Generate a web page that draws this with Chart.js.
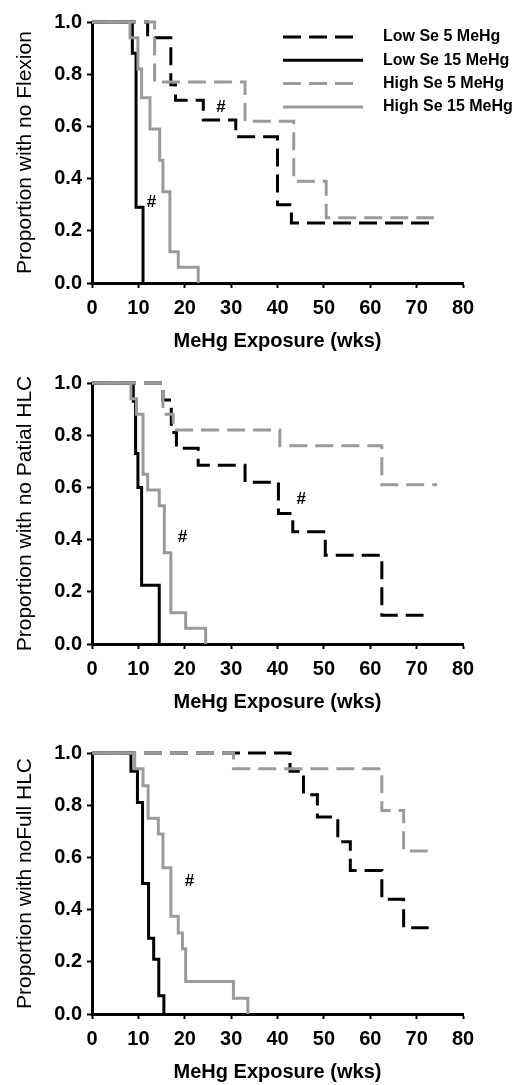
<!DOCTYPE html>
<html>
<head>
<meta charset="utf-8">
<script src="https://cdn.jsdelivr.net/npm/chart.js@4.4.1/dist/chart.umd.min.js"></script>
<style>
    body { margin: 0; background: #fff; width: 517px; height: 1085px; overflow: hidden; position: relative; }
    .panel { position: absolute; left: 0; width: 517px; height: 355px; }
</style>
</head>
<body>
<div class="panel" style="top:0px"><canvas id="flex-chart"></canvas></div>
<div class="panel" style="top:361px"><canvas id="partial-chart"></canvas></div>
<div class="panel" style="top:731px"><canvas id="full-chart"></canvas></div>

<script>
// weeks of MeHg exposure and proportion still without the sign
const xTicks = [0, 10, 20, 30, 40, 50, 60, 70, 80];
const yTicks = [0, 0.2, 0.4, 0.6, 0.8, 1.0];
const groupNames = ['Low Se 5 MeHg', 'Low Se 15 MeHg', 'High Se 5 MeHg', 'High Se 15 MeHg'];

// panel 1 - flexion
const flexLowSe5Wk = [0, 12, 17, 18, 24, 31, 40, 43, 73];
const flexLowSe5P = [1, 0.94, 0.76, 0.70, 0.625, 0.56, 0.30, 0.23, 0.23];
const flexLowSe15Wk = [0, 8.7, 9.5, 11];
const flexLowSe15P = [1, 0.88, 0.29, 0];
const flexHighSe5Wk = [0, 13.5, 33, 43.5, 50.5, 73.7];
const flexHighSe5P = [1, 0.77, 0.62, 0.39, 0.25, 0.25];
const flexHighSe15Wk = [0, 8.2, 9.9, 10.7, 12.5, 14.6, 15.3, 16.8, 18.6, 22.9];
const flexHighSe15P = [1, 0.94, 0.82, 0.71, 0.59, 0.47, 0.35, 0.12, 0.06, 0];
const flexMarks = [[12.8, 0.31], [27.8, 0.675]];

// panel 2 - partial HLC
const partLowSe5Wk = [0, 15.3, 17.1, 18.2, 22.9, 33, 40.2, 43.3, 50.3, 62.5, 71.5];
const partLowSe5P = [1, 0.935, 0.81, 0.75, 0.685, 0.62, 0.50, 0.43, 0.34, 0.11, 0.11];
const partLowSe15Wk = [0, 8.9, 9.4, 9.9, 10.7, 14.5];
const partLowSe15P = [1, 0.93, 0.73, 0.60, 0.225, 0];
const partHighSe5Wk = [0, 15.3, 17.5, 40.5, 62.5, 74.4];
const partHighSe5P = [1, 0.88, 0.82, 0.76, 0.61, 0.61];
const partHighSe15Wk = [0, 8.4, 9.6, 11, 12, 14.5, 15.6, 17, 20.2, 24.5];
const partHighSe15P = [1, 0.94, 0.88, 0.65, 0.59, 0.53, 0.35, 0.12, 0.06, 0];
const partMarks = [[19.5, 0.41], [45.1, 0.555]];

// panel 3 - full HLC
const fullLowSe5Wk = [0, 42.7, 45.6, 48.6, 53, 55.7, 62.5, 67.2, 72.6];
const fullLowSe5P = [1, 0.93, 0.84, 0.755, 0.66, 0.55, 0.44, 0.33, 0.33];
const fullLowSe15Wk = [0, 8.4, 9.8, 10.9, 12.2, 13.3, 14.4, 15.5];
const fullLowSe15P = [1, 0.93, 0.81, 0.50, 0.29, 0.21, 0.07, 0];
const fullHighSe5Wk = [0, 30.5, 62.5, 67.2, 72.4];
const fullHighSe5P = [1, 0.94, 0.78, 0.625, 0.625];
const fullHighSe15Wk = [0, 9.2, 11, 12.1, 14.3, 15.3, 17, 18.6, 19.5, 20.2, 30.5, 33.6];
const fullHighSe15P = [1, 0.94, 0.875, 0.75, 0.69, 0.56, 0.375, 0.31, 0.25, 0.125, 0.06, 0];
const fullMarks = [[21, 0.51]];

const BLACK = '#000000';
const GREY = '#9a9a9a';
const DASH = [18, 8];
const FONT = '"Liberation Sans", Arial, sans-serif';

// line style per group, same order as groupNames
const groupStyles = [
    { color: BLACK, dash: DASH, order: 3 },
    { color: BLACK, dash: [], order: 4 },
    { color: GREY, dash: DASH, order: 2 },
    { color: GREY, dash: [], order: 1 }
];

function toPoints(wk, p) {
    return wk.map((w, i) => ({ x: w, y: p[i] }));
}

// draws the # marks, and the legend box on the first panel
const extrasPlugin = {
    id: 'extras',
    afterDatasetsDraw(chart, args, opts) {
        const ctx = chart.ctx;
        const xs = chart.scales.x, ys = chart.scales.y;
        ctx.save();
        ctx.fillStyle = BLACK;
        ctx.font = 'bold 17px ' + FONT;
        ctx.textAlign = 'center';
        ctx.textBaseline = 'middle';
        (opts.marks || []).forEach(m => {
            ctx.fillText('#', xs.getPixelForValue(m[0]), ys.getPixelForValue(m[1]));
        });
        if (opts.legend) {
            ctx.font = 'bold 16px ' + FONT;
            ctx.textAlign = 'left';
            groupNames.forEach((name, i) => {
                const y = 37 + i * 23.3;
                const st = groupStyles[i];
                ctx.strokeStyle = st.color;
                ctx.lineWidth = 3;
                ctx.setLineDash(st.dash);
                ctx.beginPath();
                ctx.moveTo(283, y);
                ctx.lineTo(st.dash.length ? 355 : 363, y);
                ctx.stroke();
                ctx.fillText(name, 383, y);
            });
        }
        ctx.restore();
    }
};

function makePanel(canvasId, yTitle, series, marks, showLegend) {
    const ctx = document.getElementById(canvasId).getContext('2d');
    const datasets = series.map((s, i) => ({
        label: groupNames[i],
        data: toPoints(s[0], s[1]),
        stepped: 'before',
        borderColor: groupStyles[i].color,
        borderDash: groupStyles[i].dash,
        borderWidth: 3,
        borderCapStyle: 'butt',
        pointRadius: 0,
        fill: false,
        clip: false,
        order: groupStyles[i].order
    }));

    return new Chart(ctx, {
        type: 'line',
        data: { datasets: datasets },
        plugins: [extrasPlugin],
        options: {
            responsive: true,
            maintainAspectRatio: false,
            animation: false,
            layout: { padding: { top: 22, right: 54, left: 0, bottom: 0 } },
            plugins: {
                legend: { display: false },
                tooltip: { enabled: false },
                extras: { marks: marks, legend: showLegend }
            },
            scales: {
                x: {
                    type: 'linear',
                    min: 0,
                    max: 80,
                    afterBuildTicks: sc => { sc.ticks = xTicks.map(v => ({ value: v })); },
                    afterFit: sc => { sc.height = 72; },
                    border: { display: true, color: BLACK, width: 3 },
                    grid: { drawOnChartArea: false, drawTicks: true, tickLength: 5, tickWidth: 2, tickColor: BLACK, color: BLACK },
                    ticks: { color: BLACK, padding: 8, font: { family: FONT, size: 20, weight: 'bold' }, maxRotation: 0 },
                    title: {
                        display: true,
                        text: 'MeHg Exposure (wks)',
                        color: BLACK,
                        font: { family: FONT, size: 20, weight: 'bold' },
                        padding: { top: 0, bottom: 2 }
                    }
                },
                y: {
                    min: 0,
                    max: 1,
                    afterBuildTicks: sc => { sc.ticks = yTicks.map(v => ({ value: v })); },
                    afterFit: sc => { sc.width = 92; },
                    border: { display: true, color: BLACK, width: 3 },
                    grid: { drawOnChartArea: false, drawTicks: true, tickLength: 5, tickWidth: 2, tickColor: BLACK, color: BLACK },
                    ticks: {
                        color: BLACK,
                        padding: 5,
                        font: { family: FONT, size: 20, weight: 'bold' },
                        callback: v => v.toFixed(1)
                    },
                    title: {
                        display: true,
                        text: yTitle,
                        color: BLACK,
                        font: { family: FONT, size: 21 },
                        padding: { top: 13, bottom: 0 }
                    }
                }
            }
        }
    });
}

makePanel('flex-chart', 'Proportion with no Flexion', [
    [flexLowSe5Wk, flexLowSe5P],
    [flexLowSe15Wk, flexLowSe15P],
    [flexHighSe5Wk, flexHighSe5P],
    [flexHighSe15Wk, flexHighSe15P]
], flexMarks, true);

makePanel('partial-chart', 'Proportion with no Patial HLC', [
    [partLowSe5Wk, partLowSe5P],
    [partLowSe15Wk, partLowSe15P],
    [partHighSe5Wk, partHighSe5P],
    [partHighSe15Wk, partHighSe15P]
], partMarks, false);

makePanel('full-chart', 'Proportion with noFull HLC', [
    [fullLowSe5Wk, fullLowSe5P],
    [fullLowSe15Wk, fullLowSe15P],
    [fullHighSe5Wk, fullHighSe5P],
    [fullHighSe15Wk, fullHighSe15P]
], fullMarks, false);
</script>
</body>
</html>
